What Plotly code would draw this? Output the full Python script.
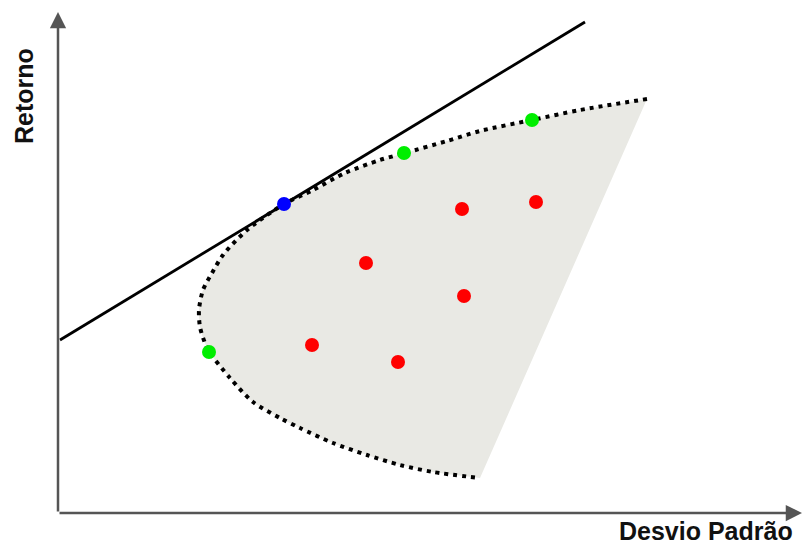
import plotly.graph_objects as go

# Efficient frontier, from top-right end down to bottom end
frontier_x = [58.9, 52.2, 47.4, 42.2, 38.9, 34.7, 32.2, 28.7, 25.5, 22.6, 18.9, 16.5, 15.4,
              14.5, 14.1, 14.2, 14.7, 15.2, 17.2, 19.5, 22.2, 24.2, 27.5, 30.9, 34.2, 37.5, 42.2]
frontier_y = [41.4, 40.3, 39.3, 38.2, 37.2, 36.0, 35.3, 34.0, 32.3, 30.9, 28.3, 25.8, 24.0,
              22.3, 20.3, 18.6, 17.0, 16.0, 13.5, 11.1, 9.5, 8.5, 7.0, 5.8, 4.8, 4.1, 3.5]

# Capital market line endpoints
cml_x = [0.2, 52.7]
cml_y = [17.3, 49.1]

# Portfolios
tangent_x = [22.6]
tangent_y = [30.9]
green_x = [15.1, 34.6, 47.4]
green_y = [16.1, 36.0, 39.3]
red_x = [40.4, 47.8, 30.8, 40.6, 25.4, 34.0]
red_y = [30.4, 31.1, 25.0, 21.7, 16.8, 15.1]

x_label = "Desvio Padrão"
y_label = "Retorno"

fig = go.Figure()

# Feasible region fill
fig.add_trace(go.Scatter(x=frontier_x, y=frontier_y, mode="lines", fill="toself",
                         fillcolor="rgb(233,233,228)",
                         line=dict(width=0, shape="spline", smoothing=0.8),
                         hoverinfo="skip", showlegend=False))
# Frontier dotted curve
fig.add_trace(go.Scatter(x=frontier_x, y=frontier_y, mode="lines",
                         line=dict(color="black", width=4, dash="4px,5px",
                                   shape="spline", smoothing=0.8),
                         showlegend=False))
# Capital market line
fig.add_trace(go.Scatter(x=cml_x, y=cml_y, mode="lines",
                         line=dict(color="black", width=2.8), showlegend=False))
# Points
fig.add_trace(go.Scatter(x=red_x, y=red_y, mode="markers",
                         marker=dict(color="#ff0000", size=14), showlegend=False))
fig.add_trace(go.Scatter(x=green_x, y=green_y, mode="markers",
                         marker=dict(color="#00ee00", size=14), showlegend=False))
fig.add_trace(go.Scatter(x=tangent_x, y=tangent_y, mode="markers",
                         marker=dict(color="#0000ff", size=14), showlegend=False))

# Axes with arrows
axis_col = "#555555"
fig.add_annotation(x=0, y=50.1, ax=0, ay=0, xref="x", yref="y", axref="x", ayref="y",
                   text="", showarrow=True, arrowhead=2, arrowsize=1.3, arrowwidth=2.5,
                   arrowcolor=axis_col, standoff=0)
fig.add_annotation(x=74.4, y=0, ax=0, ay=0, xref="x", yref="y", axref="x", ayref="y",
                   text="", showarrow=True, arrowhead=2, arrowsize=1.3, arrowwidth=2.5,
                   arrowcolor=axis_col, standoff=0)

font_lab = dict(family="Liberation Sans, Arial, sans-serif", size=25, color="#111111")
fig.add_annotation(x=795 / 804, y=1 - 531 / 548, xref="paper", yref="paper",
                   text="<b>%s</b>" % x_label, showarrow=False, xanchor="right",
                   yanchor="middle", font=font_lab)
fig.add_annotation(x=24 / 804, y=1 - 96 / 548, xref="paper", yref="paper",
                   text="<b>%s</b>" % y_label, showarrow=False, textangle=-90,
                   xanchor="center", yanchor="middle", font=font_lab)

fig.update_layout(
    width=804, height=548,
    margin=dict(l=0, r=0, t=0, b=0),
    paper_bgcolor="white", plot_bgcolor="white",
    xaxis=dict(visible=False, range=[-5.8, 74.6], fixedrange=True),
    yaxis=dict(visible=False, range=[-3.5, 51.3], fixedrange=True),
)

fig.write_html("out.html", config={"displayModeBar": False},
               post_script="document.body.style.margin='0';document.body.style.overflow='hidden';")
